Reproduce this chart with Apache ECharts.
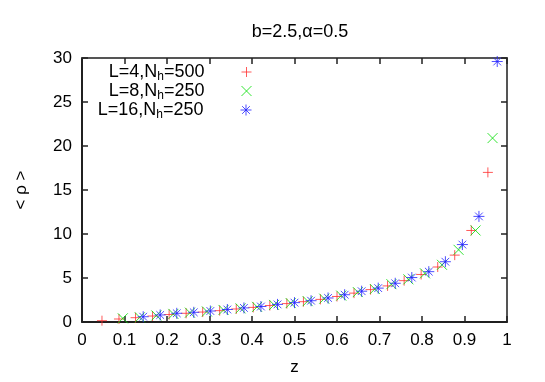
<!DOCTYPE html>
<html>
<head>
<meta charset="utf-8">
<script src="https://cdn.jsdelivr.net/npm/echarts@6/dist/echarts.min.js"></script>
<style>
  html, body { margin: 0; padding: 0; background: #fff; }
  #chart { width: 545px; height: 382px; }
</style>
</head>
<body>
<div id="chart"></div>
<script>
  // L=4, N_h=500
  var zL4 = [0.047, 0.087, 0.126, 0.166, 0.205, 0.245, 0.284, 0.324, 0.363, 0.403, 0.442, 0.482,
             0.521, 0.561, 0.600, 0.640, 0.679, 0.719, 0.758, 0.798, 0.837, 0.877, 0.916, 0.955]
  var rhoL4 = [0.15, 0.34, 0.49, 0.68, 0.85, 0.99, 1.13, 1.29, 1.48, 1.66, 1.87, 2.09,
               2.31, 2.57, 2.9, 3.28, 3.68, 4.1, 4.7, 5.4, 6.25, 7.6, 10.4, 17.0]
  // L=8, N_h=250
  var zL8 = [0.096, 0.136, 0.175, 0.215, 0.254, 0.294, 0.333, 0.373, 0.412, 0.452, 0.491, 0.531,
             0.570, 0.610, 0.649, 0.689, 0.728, 0.768, 0.807, 0.847, 0.886, 0.926, 0.966]
  var rhoL8 = [0.42, 0.53, 0.74, 0.92, 1.06, 1.2, 1.37, 1.55, 1.72, 1.94, 2.15, 2.37,
               2.65, 3.0, 3.4, 3.75, 4.3, 4.85, 5.53, 6.5, 8.2, 10.4, 20.9]
  // L=16, N_h=250
  var zL16 = [0.144, 0.184, 0.223, 0.263, 0.302, 0.342, 0.381, 0.421, 0.460, 0.500, 0.539, 0.579,
              0.618, 0.658, 0.697, 0.737, 0.776, 0.816, 0.855, 0.895, 0.934, 0.977]
  var rhoL16 = [0.6, 0.8, 0.99, 1.1, 1.25, 1.42, 1.6, 1.76, 2.0, 2.2, 2.42, 2.73,
                3.1, 3.5, 3.85, 4.4, 5.05, 5.72, 6.85, 8.8, 12.0, 29.6]

  var seriesNames = ['L=4,Nh=500', 'L=8,Nh=250', 'L=16,Nh=250']
  var seriesColors = ['#ff3030', '#00dd00', '#2020ff']
  var markPaths = [
    'path://M0,5L10,5M5,0L5,10',
    'path://M0,0L10,10M0,10L10,0',
    'path://M0,5L10,5M5,0L5,10M1.5,1.5L8.5,8.5M1.5,8.5L8.5,1.5'
  ]
  var markSizes = [10, 10, 11]

  var font = 'Liberation Sans'
  var chart = echarts.init(document.getElementById('chart'))

  // gnuplot style box: four axes with inward ticks
  function axis(pos, min, max, step, lineColor, lineWidth, extra) {
    var a = {
      type: 'value', min: min, max: max, interval: step, position: pos,
      axisLine: {show: true, onZero: false, lineStyle: {color: lineColor, width: lineWidth}},
      axisTick: {show: true, inside: true, length: 6, lineStyle: {color: '#222', width: 1.5}},
      splitLine: {show: false},
      axisLabel: {show: false}
    }
    return Object.assign(a, extra || {})
  }

  function legendFor(i, top) {
    return {
      data: [{
        name: seriesNames[i],
        icon: markPaths[i],
        itemStyle: {color: 'none', borderColor: seriesColors[i], borderWidth: 1}
      }],
      right: 291,
      top: top,
      align: 'right',
      itemWidth: markSizes[i],
      itemHeight: markSizes[i],
      padding: 0,
      selectedMode: false,
      formatter: function (n) {
        var m = n.match(/^(L=\d+,N)h(=\d+)$/)
        return '{t|' + m[1] + '}{s|h}{t|' + m[2] + '}'
      },
      textStyle: {
        padding: [0, 32, 0, 0],
        rich: {
          t: {fontFamily: font, fontSize: 18, color: '#000'},
          s: {fontFamily: font, fontSize: 12, color: '#000', padding: [10, 0, 0, 0]}
        }
      }
    }
  }

  var data = [[zL4, rhoL4], [zL8, rhoL8], [zL16, rhoL16]]

  chart.setOption({
    animation: false,
    title: {
      text: 'b=2.5,α=0.5', left: 295, top: 18, textAlign: 'center',
      textStyle: {fontFamily: font, fontSize: 18, fontWeight: 'normal', color: '#000'}
    },
    grid: {left: 82, right: 38, top: 58, bottom: 60, show: true, borderColor: '#555', borderWidth: 1.5},
    xAxis: [
      axis('bottom', 0, 1, 0.1, '#000', 1.5, {
        name: 'z', nameLocation: 'middle', nameGap: 37,
        nameTextStyle: {fontFamily: font, fontSize: 17, color: '#000'},
        axisLabel: {show: true, fontFamily: font, fontSize: 17, color: '#000', margin: 10,
          formatter: function (v) { return String(+v.toFixed(1)) }}
      }),
      axis('top', 0, 1, 0.1, '#555', 2)
    ],
    yAxis: [
      axis('left', 0, 30, 5, '#000', 1.5, {
        name: '< ρ >', nameLocation: 'middle', nameGap: 52, nameRotate: 90,
        nameTextStyle: {fontFamily: font, fontSize: 17, color: '#000'},
        axisLabel: {show: true, fontFamily: font, fontSize: 17, color: '#000', margin: 10}
      }),
      axis('right', 0, 30, 5, '#555', 2)
    ],
    series: data.map(function (d, i) {
      return {
        name: seriesNames[i],
        type: 'scatter',
        data: d[0].map(function (x, j) { return [x, d[1][j]] }),
        symbol: markPaths[i],
        symbolSize: markSizes[i],
        itemStyle: {color: 'none', borderColor: seriesColors[i], borderWidth: 1}
      }
    }),
    legend: [legendFor(0, 63), legendFor(1, 82), legendFor(2, 101)]
  })
</script>
</body>
</html>
